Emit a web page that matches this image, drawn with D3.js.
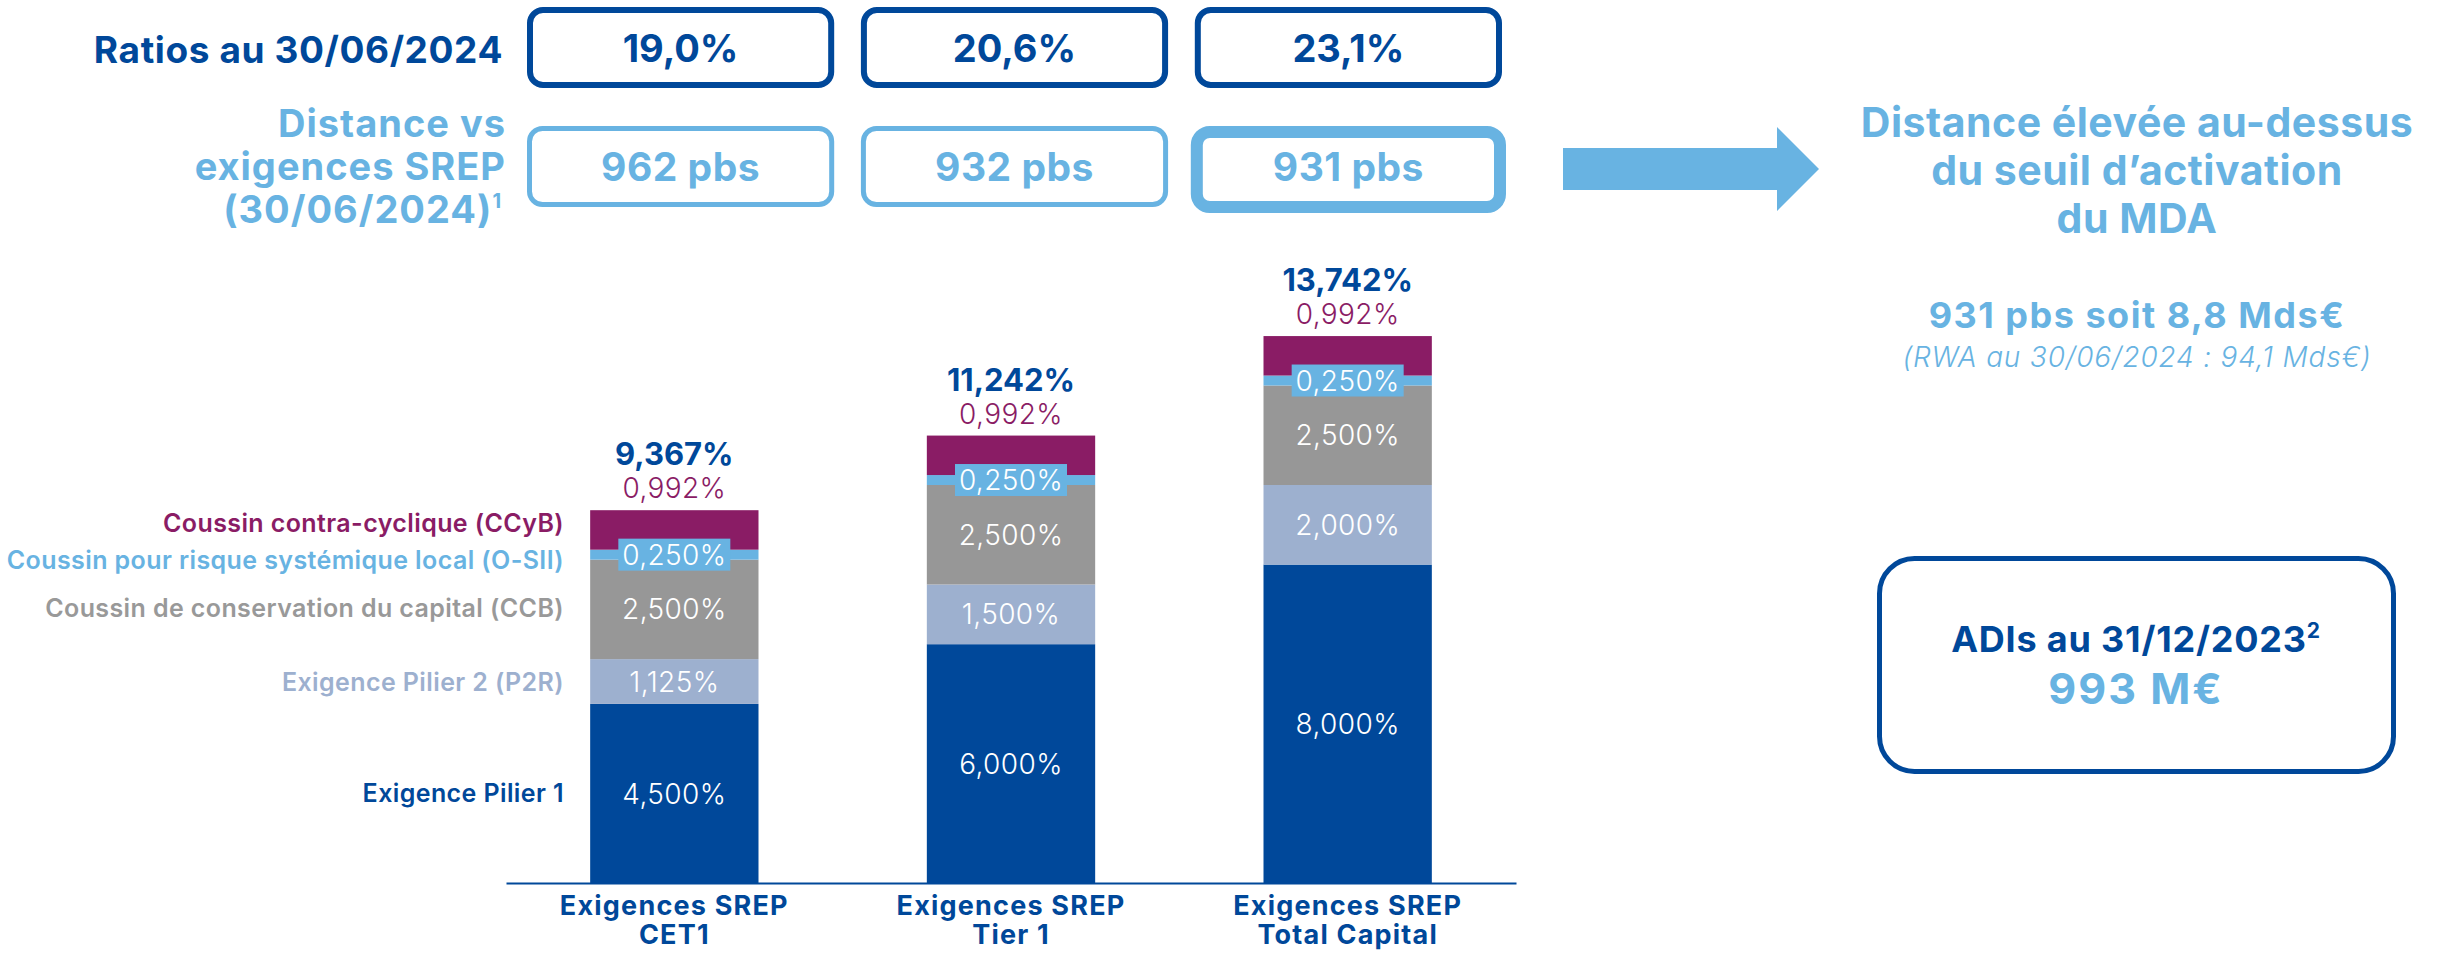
<!DOCTYPE html>
<html>
<head>
<meta charset="utf-8">
<script src="https://cdn.jsdelivr.net/npm/d3@7"></script>
<style>
  body { margin: 0; background: #fff; }
  svg { display: block; font-family: Inter, 'Open Sans', sans-serif; }
</style>
</head>
<body>
<script>
const width = 2443
const height = 953

// data
const categories = ['CET1', 'Tier 1', 'Total Capital']
const ratios = [19.0, 20.6, 23.1]
const distances = [962, 932, 931]
const pilier1 = [4.5, 6.0, 8.0]
const pilier2 = [1.125, 1.5, 2.0]
const ccb = [2.5, 2.5, 2.5]
const osii = [0.25, 0.25, 0.25]
const ccyb = [0.992, 0.992, 0.992]
const rwa = 94.1
const adi = 993
const seriesKeys = ['p1', 'p2', 'ccb', 'osii', 'ccyb']
const seriesNames = ['Exigence Pilier 1', 'Exigence Pilier 2 (P2R)', 'Coussin de conservation du capital (CCB)',
  'Coussin pour risque systémique local (O-SII)', 'Coussin contra-cyclique (CCyB)']
const seriesColors = ['#00489a', '#9db0cf', '#979797', '#68b3e2', '#8a1c65']
const labelColors = ['#00489a', '#9db0cf', '#999999', '#68b3e2', '#8a1c65']

const darkBlue = '#00489a'
const lightBlue = '#68b3e2'

const fr = d3.formatLocale({ decimal: ',', thousands: ' ', grouping: [3], currency: ['', '€'] })
const f3 = fr.format('.3f')
const f1 = fr.format('.1f')

const rows = categories.map(function (c, i) {
  return { cat: c, p1: pilier1[i], p2: pilier2[i], ccb: ccb[i], osii: osii[i], ccyb: ccyb[i] }
})
const stacked = d3.stack().keys(seriesKeys)(rows)

const x = d3.scaleBand()
  .domain(categories)
  .range([506, 1516])
  .paddingInner(0.5)
  .paddingOuter(0.25)

const y = d3.scaleLinear()
  .domain([0, 14])
  .range([883, 883 - 14 * 39.8])

// boxes on top
const bx = d3.scaleBand()
  .domain(categories)
  .range([527, 1502])
  .paddingInner(0.08)

const svg = d3.select('body').append('svg')
  .attr('width', width)
  .attr('height', height)

// row titles
svg.append('text')
  .attr('x', 503).attr('y', 63)
  .attr('text-anchor', 'end')
  .attr('font-size', 37).attr('font-weight', 700)
  .attr('letter-spacing', 0.6)
  .attr('fill', darkBlue)
  .text('Ratios au 30/06/2024')

const dist = svg.append('text')
  .attr('text-anchor', 'end')
  .attr('font-size', 38).attr('font-weight', 700)
  .attr('letter-spacing', 1)
  .attr('fill', lightBlue)
dist.append('tspan').attr('x', 506).attr('y', 137).text('Distance vs')
dist.append('tspan').attr('x', 506).attr('y', 180).text('exigences SREP')
const l3 = dist.append('tspan').attr('x', 502).attr('y', 223)
l3.append('tspan').text('(30/06/2024)')
l3.append('tspan').attr('font-size', 20).attr('dy', -15).text('1')

// ratio boxes
const top1 = svg.append('g').selectAll('g')
  .data(categories).enter().append('g')
top1.append('rect')
  .attr('x', function (d) { return bx(d) + 3 })
  .attr('y', 10)
  .attr('width', bx.bandwidth() - 6)
  .attr('height', 75)
  .attr('rx', 13)
  .attr('fill', 'none')
  .attr('stroke', darkBlue)
  .attr('stroke-width', 6)
top1.append('text')
  .attr('x', function (d) { return bx(d) + bx.bandwidth() / 2 })
  .attr('y', 62)
  .attr('text-anchor', 'middle')
  .attr('font-size', 38).attr('font-weight', 700)
  .attr('fill', darkBlue)
  .text(function (d, i) { return f1(ratios[i]) + '%' })

const top2 = svg.append('g').selectAll('g')
  .data(categories).enter().append('g')
top2.append('rect')
  .attr('x', function (d, i) { return i === 2 ? bx(d) + 2 : bx(d) + 2.5 })
  .attr('y', function (d, i) { return i === 2 ? 132 : 128.5 })
  .attr('width', function (d, i) { return i === 2 ? bx.bandwidth() - 4 : bx.bandwidth() - 5 })
  .attr('height', function (d, i) { return i === 2 ? 75 : 76 })
  .attr('rx', 13)
  .attr('fill', 'none')
  .attr('stroke', lightBlue)
  .attr('stroke-width', function (d, i) { return i === 2 ? 12 : 5 })
top2.append('text')
  .attr('x', function (d) { return bx(d) + bx.bandwidth() / 2 })
  .attr('y', 181)
  .attr('text-anchor', 'middle')
  .attr('font-size', 39).attr('font-weight', 700)
  .attr('letter-spacing', 0.5)
  .attr('fill', lightBlue)
  .text(function (d, i) { return distances[i] + ' pbs' })

// arrow
svg.append('path')
  .attr('d', 'M1563,148H1777V127L1819,169L1777,211V190H1563Z')
  .attr('fill', lightBlue)

// right side texts
const rt = svg.append('text')
  .attr('text-anchor', 'middle')
  .attr('font-size', 41).attr('font-weight', 700)
  .attr('letter-spacing', 0.5)
  .attr('fill', lightBlue)
rt.append('tspan').attr('x', 2137).attr('y', 137).text('Distance élevée au-dessus')
rt.append('tspan').attr('x', 2137).attr('y', 185).text('du seuil d’activation')
rt.append('tspan').attr('x', 2137).attr('y', 233).text('du MDA')

svg.append('text')
  .attr('x', 2137).attr('y', 328)
  .attr('text-anchor', 'middle')
  .attr('font-size', 36).attr('font-weight', 700)
  .attr('letter-spacing', 1.5)
  .attr('fill', lightBlue)
  .text(distances[2] + ' pbs soit ' + f1(distances[2] / 10000 * rwa) + ' Mds€')

svg.append('text')
  .attr('x', 2137).attr('y', 367)
  .attr('text-anchor', 'middle')
  .attr('font-size', 28).attr('font-weight', 300).attr('font-style', 'italic')
  .attr('letter-spacing', 0.8)
  .attr('fill', lightBlue)
  .text('(RWA au 30/06/2024 : ' + f1(rwa) + ' Mds€)')

// ADI box
svg.append('rect')
  .attr('x', 1879.5).attr('y', 558.5)
  .attr('width', 514).attr('height', 213)
  .attr('rx', 35)
  .attr('fill', 'none')
  .attr('stroke', darkBlue)
  .attr('stroke-width', 5)
const adiT = svg.append('text')
  .attr('x', 2136).attr('y', 652)
  .attr('text-anchor', 'middle')
  .attr('font-size', 36).attr('font-weight', 700)
  .attr('letter-spacing', 0.8)
  .attr('fill', darkBlue)
adiT.append('tspan').text('ADIs au 31/12/2023')
adiT.append('tspan').attr('font-size', 21).attr('dy', -14).text('2')
svg.append('text')
  .attr('x', 2136).attr('y', 704)
  .attr('text-anchor', 'middle')
  .attr('font-size', 43).attr('font-weight', 700)
  .attr('letter-spacing', 2)
  .attr('fill', lightBlue)
  .text(adi + ' M€')

// stacked bars
const layer = svg.append('g').selectAll('g')
  .data(stacked).enter().append('g')
  .attr('fill', function (d, i) { return seriesColors[i] })

layer.selectAll('rect')
  .data(function (d) { return d })
  .enter().append('rect')
  .attr('x', function (d) { return x(d.data.cat) })
  .attr('y', function (d) { return y(d[1]) })
  .attr('width', x.bandwidth())
  .attr('height', function (d) { return y(d[0]) - y(d[1]) })

// labels inside bars
stacked.forEach(function (s, si) {
  const key = seriesKeys[si]
  const g = svg.append('g')
  s.forEach(function (d) {
    const cx = x(d.data.cat) + x.bandwidth() / 2
    const cy = (y(d[0]) + y(d[1])) / 2
    const txt = f3(d[1] - d[0]) + '%'
    if (key === 'ccyb') {
      g.append('text')
        .attr('x', cx).attr('y', y(d[1]) - 12)
        .attr('text-anchor', 'middle')
        .attr('font-size', 28).attr('font-weight', 300)
        .attr('letter-spacing', 0.4)
        .attr('fill', seriesColors[si])
        .text(txt)
      g.append('text')
        .attr('x', cx).attr('y', y(d[1]) - 45)
        .attr('text-anchor', 'middle')
        .attr('font-size', 31).attr('font-weight', 700)
        .attr('fill', darkBlue)
        .text(f3(d[1]) + '%')
      return
    }
    if (key === 'osii') {
      g.append('rect')
        .attr('x', cx - 56).attr('y', cy - 16)
        .attr('width', 112).attr('height', 32)
        .attr('fill', seriesColors[si])
    }
    g.append('text')
      .attr('x', cx).attr('y', cy)
      .attr('dy', '0.36em')
      .attr('text-anchor', 'middle')
      .attr('font-size', 28).attr('font-weight', 300)
      .attr('letter-spacing', 0.4)
      .attr('fill', '#fff')
      .text(txt)
  })
})

// series labels on the left of the first bar
const labelShift = [0, 0, -1, 5, -7]
const first = categories[0]
svg.append('g').selectAll('text')
  .data(stacked).enter().append('text')
  .attr('x', 564)
  .attr('y', function (s, i) {
    const d = s.find(function (e) { return e.data.cat === first })
    return (y(d[0]) + y(d[1])) / 2 + labelShift[i]
  })
  .attr('dy', '0.36em')
  .attr('text-anchor', 'end')
  .attr('font-size', 25).attr('font-weight', 600)
  .attr('letter-spacing', 0.4)
  .attr('fill', function (d, i) { return labelColors[i] })
  .text(function (d, i) { return seriesNames[i] })

// axis
const axis = svg.append('g')
  .attr('transform', 'translate(0,' + y(0) + ')')
  .call(d3.axisBottom(x).tickSize(0).tickSizeOuter(0))
axis.select('.domain').attr('stroke', darkBlue).attr('stroke-width', 2)
axis.selectAll('.tick text').remove()
axis.selectAll('.tick').append('text')
  .attr('text-anchor', 'middle')
  .attr('font-family', 'Inter, sans-serif')
  .attr('font-size', 27).attr('font-weight', 700)
  .attr('letter-spacing', 1.2)
  .attr('fill', darkBlue)
  .each(function (d) {
    const t = d3.select(this)
    t.append('tspan').attr('x', 0).attr('y', 32).text('Exigences SREP')
    t.append('tspan').attr('x', 0).attr('y', 61).text(d)
  })
</script>
</body>
</html>
